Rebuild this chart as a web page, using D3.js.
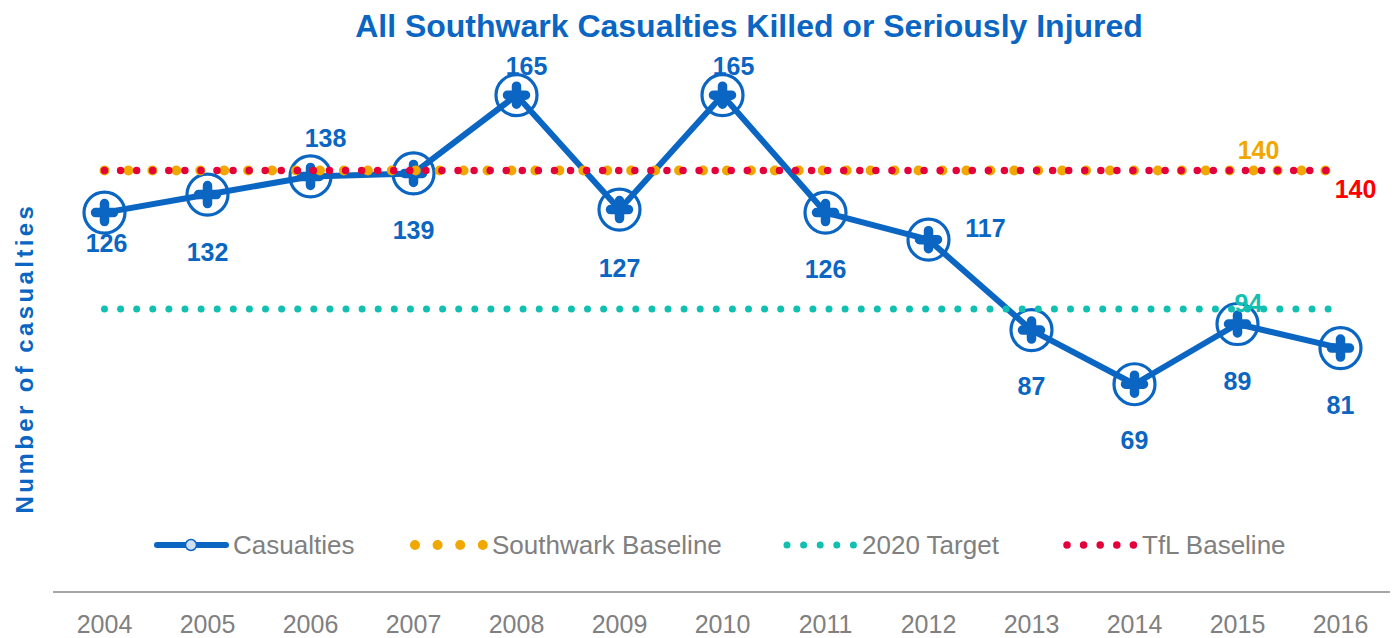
<!DOCTYPE html>
<html>
<head>
<meta charset="utf-8">
<script src="https://cdn.jsdelivr.net/npm/d3@7"></script>
<style>
  body { margin: 0; background: #fff; }
  svg { display: block; font-family: "Liberation Sans", Arial, sans-serif; }
</style>
</head>
<body>
<div id="chart"></div>
<script>
// data
const years = ["2004", "2005", "2006", "2007", "2008", "2009", "2010", "2011", "2012", "2013", "2014", "2015", "2016"];
const casualties = [126, 132, 138, 139, 165, 127, 165, 126, 117, 87, 69, 89, 81];
const southwarkBaseline = [140, 140, 140, 140, 140, 140, 140, 140, 140, 140, 140, 140, 140];
const target2020 = [94, 94, 94, 94, 94, 94, 94, 94, 94, 94, 94, 94, 94];
const tflBaseline = [140, 140, 140, 140, 140, 140, 140, 140, 140, 140, 140, 140, 140];

// where each casualty label sits relative to its point (dx, dy of text centre)
const labelOffsets = [[2, 30], [0, 57], [15, -38], [0, 57], [10, -29], [0, 58], [11, -29],
                      [0, 56], [57, -12], [0, 56], [0, 56], [0, 57], [0, 57]];

const blue = "#0a66c2", orange = "#f0a800", crimson = "#e4003b", teal = "#12c0b2", grey = "#808080";

const W = 1395, H = 638;
const svg = d3.select("#chart").append("svg").attr("width", W).attr("height", H);

const x = d3.scaleBand().domain(years).range([53, 1392]);
const y = d3.scaleLinear().domain([0, 180]).range([592, 50]);
const cx = d => x(d) + x.bandwidth() / 2;

// title
svg.append("text")
    .attr("x", 749).attr("y", 37)
    .attr("text-anchor", "middle")
    .attr("font-size", 32).attr("font-weight", "bold")
    .attr("fill", blue)
    .text("All Southwark Casualties Killed or Seriously Injured");

// y axis title
svg.append("text")
    .attr("transform", "translate(33,358) rotate(-90)")
    .attr("text-anchor", "middle")
    .attr("font-size", 24).attr("font-weight", "bold")
    .attr("letter-spacing", 3.4)
    .attr("fill", blue)
    .text("Number of casualties");

// x axis
const xAxis = svg.append("g")
    .attr("transform", "translate(0,592)")
    .call(d3.axisBottom(x).tickSize(0).tickPadding(0));
xAxis.select(".domain").attr("stroke", "#a6a6a6").attr("stroke-width", 2).attr("d", "M53,0H1390");
xAxis.selectAll("text")
    .attr("font-size", 25).attr("fill", grey)
    .attr("font-family", "Liberation Sans, Arial, sans-serif")
    .attr("dy", null).attr("y", 41);

// casualties line and markers
const line = d3.line().x((d, i) => cx(years[i])).y(d => y(d));
svg.append("path")
    .datum(casualties)
    .attr("d", line)
    .attr("fill", "none").attr("stroke", blue)
    .attr("stroke-width", 6).attr("stroke-linejoin", "round");

const markers = svg.append("g").selectAll("g")
    .data(casualties)
    .join("g")
    .attr("transform", (d, i) => `translate(${cx(years[i])},${y(d)})`);
markers.append("circle")
    .attr("r", 20.5).attr("fill", "none")
    .attr("stroke", blue).attr("stroke-width", 3.2);
markers.append("path")
    .attr("d", "M-9,0H9M0,-9V9")
    .attr("stroke", blue).attr("stroke-width", 9.5).attr("stroke-linecap", "round");

// reference lines drawn on top
function dotted(values, colour, width, gap) {
    svg.append("path")
        .datum(values)
        .attr("d", line)
        .attr("fill", "none").attr("stroke", colour)
        .attr("stroke-width", width).attr("stroke-linecap", "round")
        .attr("stroke-dasharray", `0 ${gap}`);
}
dotted(southwarkBaseline, orange, 10, 23.94);
dotted(tflBaseline, crimson, 7.5, 16.07);
dotted(target2020, teal, 7, 16.1);

// casualty labels
svg.append("g").selectAll("text")
    .data(casualties)
    .join("text")
    .attr("x", (d, i) => cx(years[i]) + labelOffsets[i][0])
    .attr("y", (d, i) => y(d) + labelOffsets[i][1] + 9)
    .attr("text-anchor", "middle")
    .attr("font-size", 25).attr("font-weight", "bold")
    .attr("fill", blue)
    .text(d => d);

// reference line labels
const refLabels = [
    {v: southwarkBaseline[11], yr: years[11], dx: 21, dy: -20, c: orange},
    {v: tflBaseline[12], yr: years[12], dx: 15, dy: 19, c: "#ff0000"},
    {v: target2020[11], yr: years[11], dx: 11, dy: -6, c: teal}
];
svg.append("g").selectAll("text")
    .data(refLabels)
    .join("text")
    .attr("x", d => cx(d.yr) + d.dx)
    .attr("y", d => y(d.v) + d.dy + 9)
    .attr("text-anchor", "middle")
    .attr("font-size", 25).attr("font-weight", "bold")
    .attr("fill", d => d.c)
    .text(d => d.v);

// legend
const legendY = 545;
const lg = svg.append("g");
lg.append("line")
    .attr("x1", 157).attr("x2", 226).attr("y1", legendY).attr("y2", legendY)
    .attr("stroke", blue).attr("stroke-width", 6).attr("stroke-linecap", "round");
lg.append("circle")
    .attr("cx", 191).attr("cy", legendY).attr("r", 5.5)
    .attr("fill", "#cfe0f3").attr("stroke", blue).attr("stroke-width", 1.5);

const legendDots = [
    {x1: 415, x2: 483, gap: 22.6, w: 10, c: orange},
    {x1: 787, x2: 854, gap: 16.6, w: 7, c: teal},
    {x1: 1067, x2: 1134, gap: 16.6, w: 7.5, c: crimson}
];
lg.selectAll("line.dots")
    .data(legendDots)
    .join("line")
    .attr("class", "dots")
    .attr("x1", d => d.x1).attr("x2", d => d.x2)
    .attr("y1", legendY).attr("y2", legendY)
    .attr("stroke", d => d.c).attr("stroke-width", d => d.w)
    .attr("stroke-linecap", "round")
    .attr("stroke-dasharray", d => `0 ${d.gap}`);

const legendText = [
    {x: 233, t: "Casualties"},
    {x: 492, t: "Southwark Baseline"},
    {x: 862, t: "2020 Target"},
    {x: 1142, t: "TfL Baseline"}
];
lg.selectAll("text")
    .data(legendText)
    .join("text")
    .attr("x", d => d.x).attr("y", legendY + 9)
    .attr("font-size", 26).attr("fill", grey)
    .text(d => d.t);
</script>
</body>
</html>
